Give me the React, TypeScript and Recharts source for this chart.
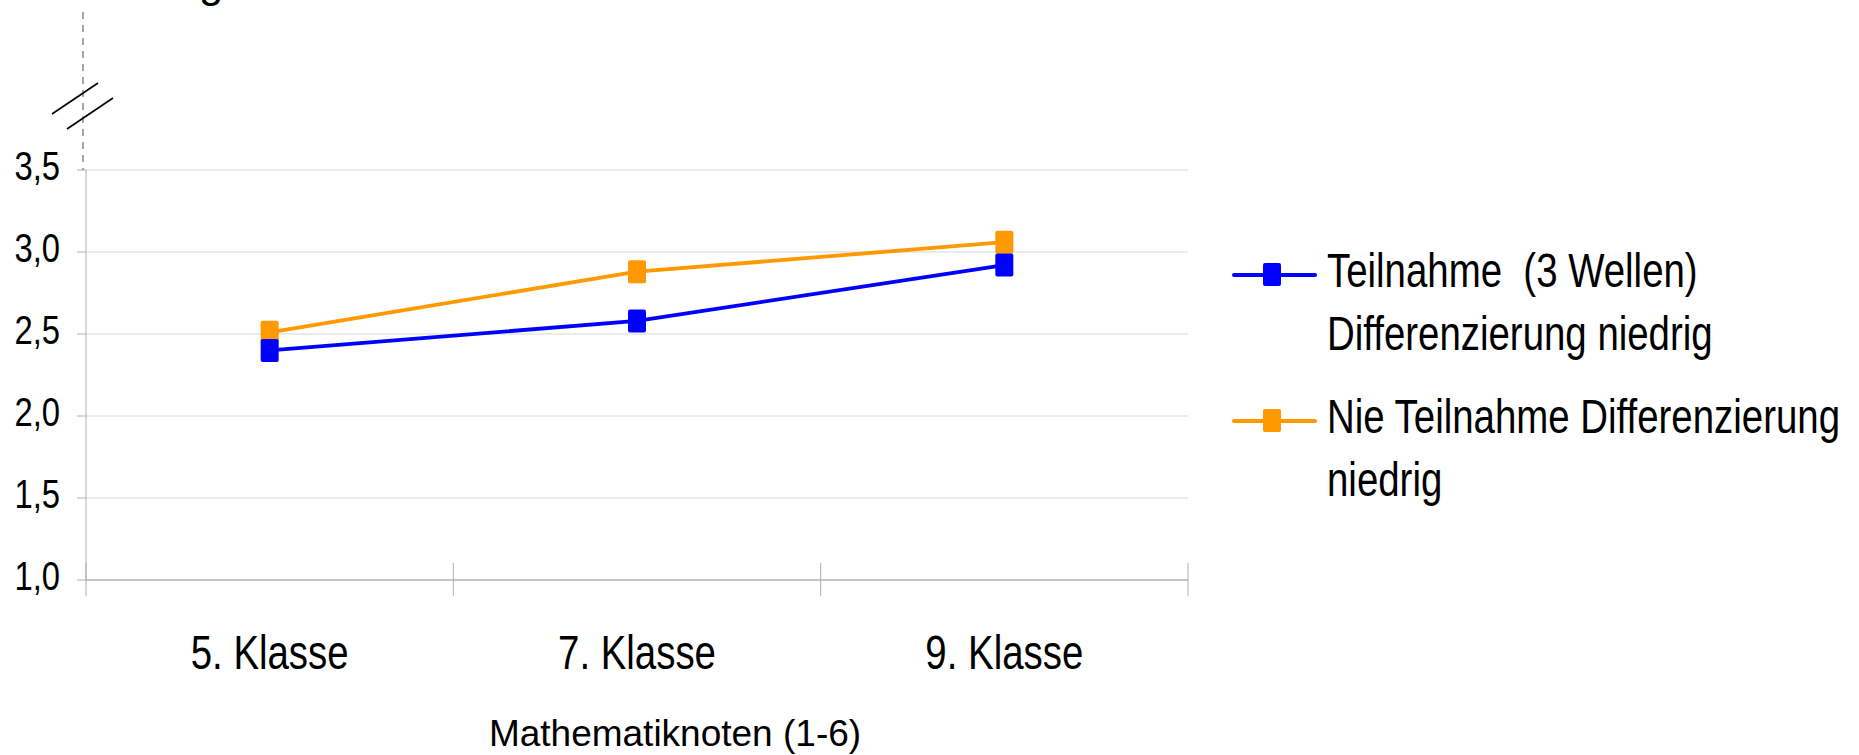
import React from "react";
import { CartesianGrid, Legend, Line, LineChart, XAxis, YAxis } from "recharts";

const grades = ["5. Klasse", "7. Klasse", "9. Klasse"];
const teilnahme = [2.4, 2.58, 2.92];
const nieTeilnahme = [2.51, 2.88, 3.06];
const yTicks = [1, 1.5, 2, 2.5, 3, 3.5];

const seriesInfo = [
  { key: "teilnahme", name: "Teilnahme  (3 Wellen) Differenzierung niedrig", color: "#0000FF" },
  { key: "nie", name: "Nie Teilnahme Differenzierung niedrig", color: "#FF9900" },
];

const data = grades.map((grade, i) => ({ grade, teilnahme: teilnahme[i], nie: nieTeilnahme[i] }));

const W = 1859;
const H = 755;
const Y_AXIS_W = 86;
const margin = { top: 170, right: 671, bottom: 0, left: 0 };
// no narrow font installed, so Liberation Sans gets squeezed horizontally
const FONT = "'Liberation Sans', Arial, sans-serif";
const SQUEEZE = 0.8;
const AXIS_GRAY = "#b0b0b0";

function SquareDot(props: any) {
  const { cx, cy, color, index } = props;
  if (cx == null || cy == null) return <g key={index} />;
  return <rect key={index} x={cx - 9} y={cy - 11.5} width={18} height={23} rx={2} fill={color} />;
}

function GradeTick(props: any) {
  const { x, y, payload, index, visibleTicksCount } = props;
  const fallbackHalf = (W - margin.right - Y_AXIS_W) / grades.length / 2;
  const half = payload?.offset || fallbackHalf;
  return (
    <g>
      <line x1={x - half} x2={x - half} y1={y - 17} y2={y + 16} stroke={AXIS_GRAY} />
      {index === visibleTicksCount - 1 && (
        <line x1={x + half} x2={x + half} y1={y - 17} y2={y + 16} stroke={AXIS_GRAY} />
      )}
      <g transform={`translate(${x},${y + 89}) scale(${SQUEEZE},1)`}>
        <text x={0} y={0} textAnchor="middle" fontFamily={FONT} fontSize={48} fill="#000">
          {payload.value}
        </text>
      </g>
    </g>
  );
}

function ValueTick(props: any) {
  const { x, y, payload } = props;
  const label = Number(payload.value).toFixed(1).replace(".", ",");
  return (
    <g transform={`translate(${x},${y}) scale(${SQUEEZE},1)`}>
      <text x={0} y={0} dy={10} textAnchor="end" fontFamily={FONT} fontSize={41} fill="#000">
        {label}
      </text>
    </g>
  );
}

function LegendContent() {
  const order = [seriesInfo[0], seriesInfo[1]];
  return (
    <div style={{ fontFamily: FONT, fontSize: 48, lineHeight: "63px", color: "#000" }}>
      {order.map((s, i) => (
        <div key={s.key} style={{ position: "relative", height: 126, marginBottom: i === 0 ? 20 : 0 }}>
          <svg width={85} height={63} style={{ position: "absolute", left: 0, top: 4 }}>
            <line x1={2} x2={83} y1={32} y2={32} stroke={s.color} strokeWidth={4} strokeLinecap="round" />
            <rect x={31} y={20} width={18} height={23} rx={2} fill={s.color} />
          </svg>
          <div
            style={{
              position: "absolute",
              left: 95,
              top: 0,
              width: 660,
              whiteSpace: "pre-wrap",
              transform: `scaleX(${SQUEEZE})`,
              transformOrigin: "left top",
            }}
          >
            {s.name}
          </div>
        </div>
      ))}
    </div>
  );
}

export default function App() {
  const axisX = Y_AXIS_W - 3;
  const top = margin.top;
  return (
    <div style={{ position: "absolute", left: 0, top: 0, width: W, height: H, background: "#fff" }}>
      <LineChart width={W} height={H} data={data} margin={margin}>
        <CartesianGrid vertical={false} stroke="#d6d6d6" />
        <XAxis
          dataKey="grade"
          scale="band"
          height={H - 580}
          tickLine={false}
          tickSize={0}
          tickMargin={0}
          stroke="#a0a0a0"
          tick={<GradeTick />}
          interval={0}
          label={{
            value: "Mathematiknoten (1-6)",
            position: "insideBottom",
            offset: 9,
            dx: 38,
            style: { fontFamily: FONT, fontSize: 37, fill: "#000" },
          }}
        />
        <YAxis
          width={Y_AXIS_W}
          domain={[1, 3.5]}
          ticks={yTicks}
          tickSize={9}
          tickMargin={17}
          stroke={AXIS_GRAY}
          tick={<ValueTick />}
        />
        <Legend
          layout="vertical"
          align="center"
          verticalAlign="middle"
          wrapperStyle={{ left: 1232, top: 239, width: 627 }}
          content={<LegendContent />}
        />
        <Line
          dataKey="nie"
          name={seriesInfo[1].name}
          stroke={seriesInfo[1].color}
          strokeWidth={3.8}
          dot={(p: any) => <SquareDot {...p} color={seriesInfo[1].color} />}
          activeDot={false}
          isAnimationActive={false}
        />
        <Line
          dataKey="teilnahme"
          name={seriesInfo[0].name}
          stroke={seriesInfo[0].color}
          strokeWidth={3.8}
          dot={(p: any) => <SquareDot {...p} color={seriesInfo[0].color} />}
          activeDot={false}
          isAnimationActive={false}
        />
      </LineChart>
      <svg width={W} height={H} style={{ position: "absolute", left: 0, top: 0, pointerEvents: "none" }}>
        <text x={199} y={-3} fontFamily={FONT} fontSize={44} fill="#000">
          g
        </text>
        <line x1={axisX} x2={axisX} y1={12} y2={top} stroke="#888" strokeWidth={1.5} strokeDasharray="7 6" />
        <line x1={52} y1={114} x2={98} y2={83} stroke="#000" strokeWidth={1.6} />
        <line x1={67} y1={129} x2={113} y2={98} stroke="#000" strokeWidth={1.6} />
      </svg>
    </div>
  );
}
